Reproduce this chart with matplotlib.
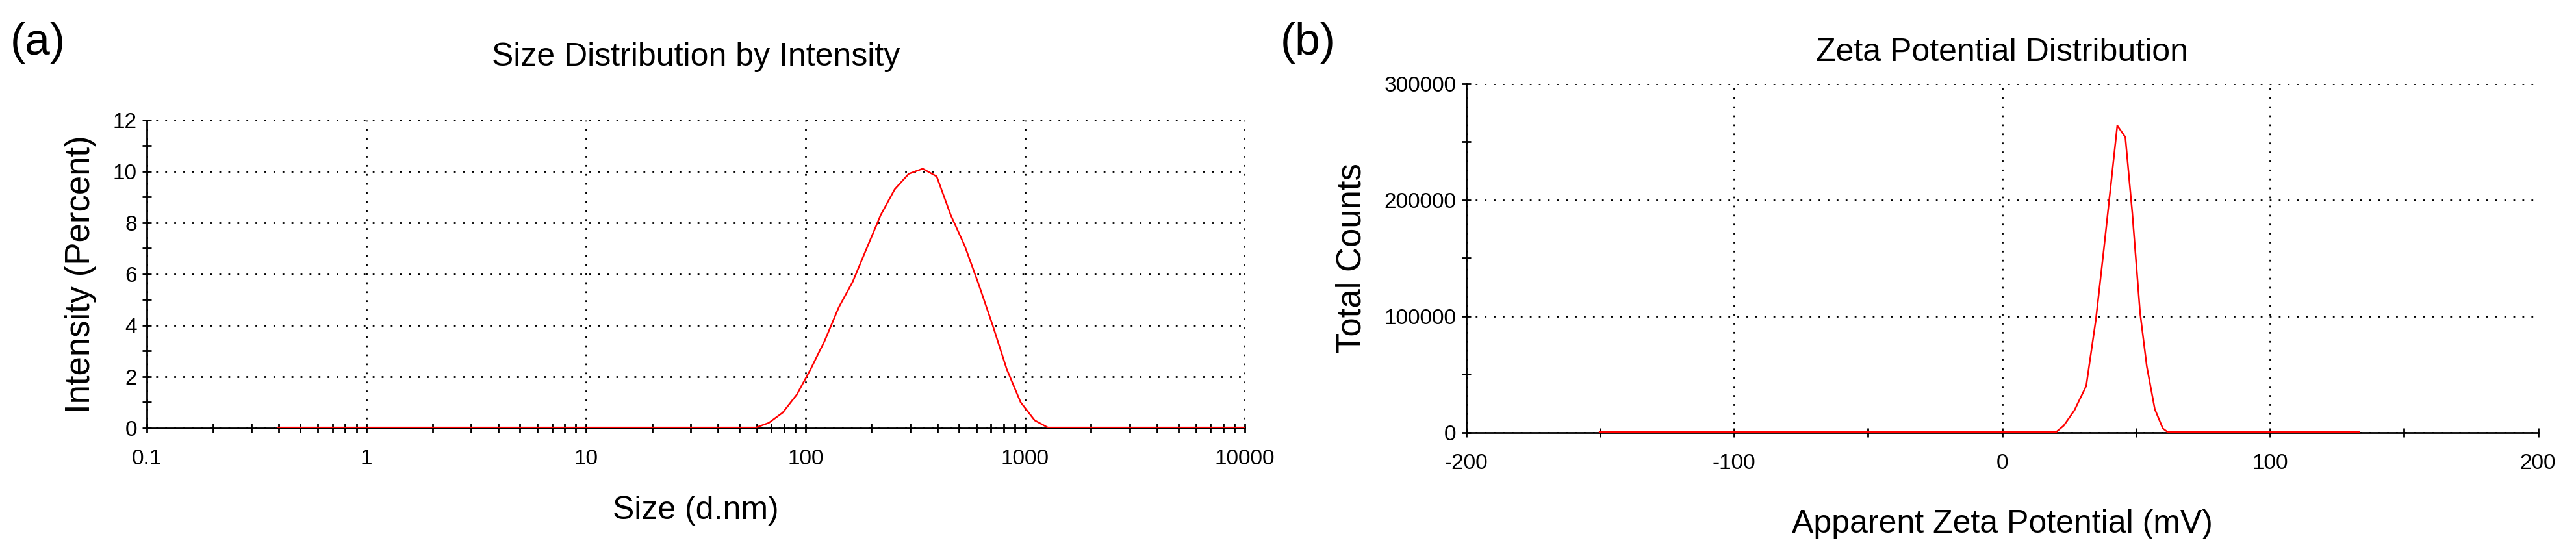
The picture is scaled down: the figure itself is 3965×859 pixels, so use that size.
import matplotlib
matplotlib.use("Agg")
import matplotlib.pyplot as plt
from matplotlib.ticker import FixedLocator

plt.rcParams['axes.unicode_minus'] = False

# --- data ---
size_nm = [58.8, 68.1, 78.8, 91.3, 105.7, 122.4, 141.8, 164.2, 190.1, 220.2, 255.0,
           295.3, 342.0, 396.1, 458.7, 531.2, 615.1, 712.4, 825.0, 955.4, 1106, 1281]
intensity = [0, 0.2, 0.6, 1.3, 2.3, 3.4, 4.7, 5.7, 7.0, 8.3, 9.3,
             9.9, 10.1, 9.8, 8.3, 7.1, 5.6, 4.0, 2.3, 1.0, 0.3, 0]
size_baseline = [0.4, 58.8, 1281, 10000]

zeta_mv = [20, 23, 27, 31.4, 35, 38, 40.6, 43, 46, 48.6, 51.5, 54, 57, 60, 62]
counts = [0, 5800, 19000, 40000, 97000, 158000, 213000, 264000, 254000,
          189000, 103000, 57000, 20000, 3400, 0]
zeta_baseline = [-150, 20, 62, 133]

font = ['Liberation Sans', 'DejaVu Sans']

fig = plt.figure(figsize=(39.66, 8.59), dpi=100)
axa = fig.add_axes([0.057, 0.233, 0.426, 0.552])
axb = fig.add_axes([0.569, 0.225, 0.416, 0.625])


def style(ax):
    for s in ['top', 'right']:
        ax.spines[s].set_visible(False)
    ax.spines['left'].set_linewidth(2)
    ax.spines['bottom'].set_linewidth(2)
    ax.grid(True, which='major', linestyle=(0, (1, 4)), color='black', linewidth=2)
    ax.tick_params(which='both', direction='inout', length=10, width=2, labelsize=24, pad=18)
    ax.tick_params(axis='y', pad=6)
    for lab in ax.get_xticklabels() + ax.get_yticklabels():
        lab.set_family(font)


# (a) size distribution
axa.set_xscale('log')
axa.plot(size_baseline[:2], [0, 0], color='red', lw=3, zorder=4)
axa.plot(size_nm, intensity, color='red', lw=1.8, zorder=4)
axa.plot(size_baseline[2:], [0, 0], color='red', lw=3, zorder=4)
axa.set_xlim(0.1, 10000)
axa.set_ylim(0, 12)
axa.set_xticks([0.1, 1, 10, 100, 1000, 10000])
axa.set_xticklabels(['0.1', '1', '10', '100', '1000', '10000'])
axa.set_yticks(range(0, 13, 2))
axa.yaxis.set_minor_locator(FixedLocator(range(1, 12, 2)))
style(axa)
axa.set_title('Size Distribution by Intensity', fontsize=36, family=font, pad=60)
axa.set_xlabel('Size (d.nm)', fontsize=36, family=font, labelpad=30)
axa.set_ylabel('Intensity (Percent)', fontsize=38, family=font, labelpad=18)

# (b) zeta potential
axb.plot(zeta_baseline[:2], [0, 0], color='red', lw=3, zorder=4)
axb.plot(zeta_mv, counts, color='red', lw=1.8, zorder=4)
axb.plot(zeta_baseline[2:], [0, 0], color='red', lw=3, zorder=4)
axb.set_xlim(-200, 200)
axb.set_ylim(0, 300000)
axb.set_xticks([-200, -100, 0, 100, 200])
axb.xaxis.set_minor_locator(FixedLocator([-150, -50, 50, 150]))
axb.set_yticks([0, 100000, 200000, 300000])
axb.yaxis.set_minor_locator(FixedLocator([50000, 150000, 250000]))
style(axb)
axb.set_title('Zeta Potential Distribution', fontsize=36, family=font, pad=25)
axb.set_xlabel('Apparent Zeta Potential (mV)', fontsize=36, family=font, labelpad=40)
axb.set_ylabel('Total Counts', fontsize=38, family=font, labelpad=18)

fig.text(0.004, 0.96, '(a)', fontsize=50, family=font, va='top')
fig.text(0.497, 0.96, '(b)', fontsize=50, family=font, va='top')

fig.savefig('out.png', dpi=100)
